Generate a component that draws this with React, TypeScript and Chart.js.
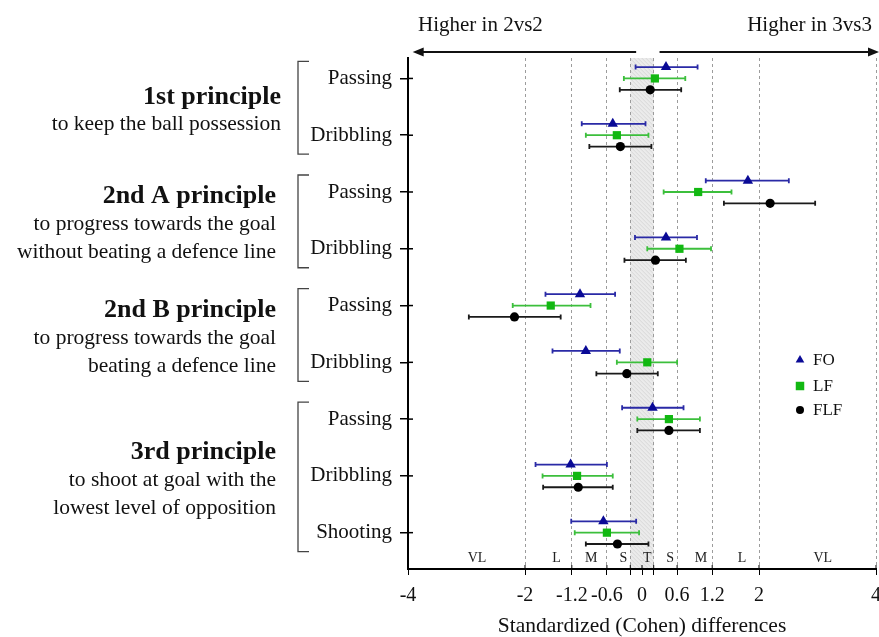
import React, { useEffect, useRef } from 'react';
import { Chart, registerables } from 'chart.js';

Chart.register(...registerables);

// ---------- data ----------
const rowLabels = ['Passing', 'Dribbling', 'Passing', 'Dribbling', 'Passing', 'Dribbling', 'Passing', 'Dribbling', 'Shooting'];

const seriesNames = ['FO', 'LF', 'FLF'];

const foMean = [0.41, -0.5, 1.81, 0.41, -1.06, -0.96, 0.18, -1.22, -0.66];
const foLow = [-0.11, -1.03, 1.09, -0.12, -1.65, -1.53, -0.34, -1.82, -1.21];
const foHigh = [0.95, 0.06, 2.51, 0.94, -0.46, -0.38, 0.71, -0.6, -0.1];

const lfMean = [0.22, -0.43, 0.96, 0.64, -1.56, 0.09, 0.46, -1.11, -0.6];
const lfLow = [-0.31, -0.96, 0.37, 0.09, -2.21, -0.43, -0.08, -1.7, -1.15];
const lfHigh = [0.74, 0.11, 1.53, 1.18, -0.88, 0.6, 0.99, -0.5, -0.05];

const flfMean = [0.14, -0.37, 2.19, 0.23, -2.18, -0.26, 0.46, -1.09, -0.42];
const flfLow = [-0.38, -0.9, 1.4, -0.3, -2.96, -0.78, -0.08, -1.69, -0.96];
const flfHigh = [0.67, 0.16, 2.96, 0.75, -1.39, 0.27, 0.99, -0.5, 0.11];

const groupTitles = ['1st principle', '2nd A principle', '2nd B principle', '3rd principle'];
const groupSubtitles = [
  ['to keep the ball possession'],
  ['to progress towards the goal', 'without beating a defence line'],
  ['to progress towards the goal', 'beating a defence line'],
  ['to shoot at goal with the', 'lowest level of opposition'],
];
const groupFirstRow = [0, 2, 4, 6];
const groupLastRow = [1, 3, 5, 8];

const xTickValues = [-4, -2, -1.2, -0.6, -0.2, 0, 0.2, 0.6, 1.2, 2, 4];
const xUnlabelled = [-0.2, 0.2];
const trivialBand = [-0.2, 0.2];

const sizeLabels = ['VL', 'L', 'M', 'S', 'T', 'S', 'M', 'L', 'VL'];
const sizeLabelX = [-2.82, -1.46, -0.87, -0.32, 0.09, 0.48, 1.01, 1.71, 3.09];

const leftArrowLabel = 'Higher in 2vs2';
const rightArrowLabel = 'Higher in 3vs3';
const xTitle = 'Standardized (Cohen) differences';

// ---------- styling ----------
const FONT = '"Liberation Serif", "Times New Roman", serif';
const SERIES_OFFSET = [-0.2, 0, 0.2];
const markerColors = ['#0a0a96', '#12b812', '#000000'];
const barColors = ['#2a2aa6', '#3cbf3c', '#1a1a1a'];
const pointStyles = ['triangle', 'rect', 'circle'];
const pointRadii = [6, 5.8, 4.6];

const means = [foMean, lfMean, flfMean];
const lows = [foLow, lfLow, flfLow];
const highs = [foHigh, lfHigh, flfHigh];

function drawMarker(ctx: CanvasRenderingContext2D, style: string, x: number, y: number, r: number) {
  ctx.beginPath();
  if (style === 'triangle') {
    ctx.moveTo(x, y - r);
    ctx.lineTo(x + r * 0.866, y + r * 0.5);
    ctx.lineTo(x - r * 0.866, y + r * 0.5);
    ctx.closePath();
    ctx.fill();
  } else if (style === 'rect') {
    const s = r * 0.707;
    ctx.fillRect(x - s, y - s, 2 * s, 2 * s);
  } else {
    ctx.arc(x, y, r, 0, Math.PI * 2);
    ctx.fill();
  }
}

const forestPlugin = {
  id: 'forestPlugin',
  beforeDraw(chart: any) {
    const { ctx, chartArea: a, scales } = chart;
    const x = scales.x;
    const x0 = x.getPixelForValue(trivialBand[0]);
    const x1 = x.getPixelForValue(trivialBand[1]);
    ctx.save();
    ctx.fillStyle = '#ebebeb';
    ctx.fillRect(x0, a.top, x1 - x0, a.bottom - a.top);
    ctx.beginPath();
    ctx.rect(x0, a.top, x1 - x0, a.bottom - a.top);
    ctx.clip();
    ctx.strokeStyle = '#d2d2d2';
    ctx.lineWidth = 0.8;
    ctx.beginPath();
    const w = x1 - x0;
    for (let yy = a.top - w; yy < a.bottom + w; yy += 4) {
      ctx.moveTo(x0, yy);
      ctx.lineTo(x1, yy + w);
    }
    ctx.stroke();
    ctx.restore();
  },
  beforeDatasetsDraw(chart: any) {
    const { ctx, scales } = chart;
    const x = scales.x;
    ctx.save();
    ctx.lineWidth = 1.8;
    chart.data.datasets.forEach((ds: any, i: number) => {
      const meta = chart.getDatasetMeta(i);
      ctx.strokeStyle = barColors[i];
      meta.data.forEach((pt: any, j: number) => {
        const y = pt.y;
        const xl = x.getPixelForValue(lows[i][j]);
        const xh = x.getPixelForValue(highs[i][j]);
        ctx.beginPath();
        ctx.moveTo(xl, y);
        ctx.lineTo(xh, y);
        ctx.moveTo(xl, y - 2.5);
        ctx.lineTo(xl, y + 2.5);
        ctx.moveTo(xh, y - 2.5);
        ctx.lineTo(xh, y + 2.5);
        ctx.stroke();
      });
    });
    ctx.restore();
  },
  afterDraw(chart: any) {
    const { ctx, chartArea: a, scales } = chart;
    const x = scales.x;
    const y = scales.y;
    ctx.save();

    // inner halves of y tick marks
    ctx.strokeStyle = '#000';
    ctx.lineWidth = 1.5;
    rowLabels.forEach((_, i) => {
      const py = y.getPixelForValue(i);
      ctx.beginPath();
      ctx.moveTo(a.left, py);
      ctx.lineTo(a.left + 5, py);
      ctx.stroke();
    });
    // inner halves of x tick marks
    ctx.lineWidth = 1;
    xTickValues.forEach((v) => {
      const px = x.getPixelForValue(v);
      ctx.beginPath();
      ctx.moveTo(px, a.bottom);
      ctx.lineTo(px, a.bottom - 4);
      ctx.stroke();
    });

    // group headers and brackets
    ctx.fillStyle = '#111';
    ctx.textAlign = 'right';
    ctx.textBaseline = 'middle';
    groupTitles.forEach((title, g) => {
      const top = y.getPixelForValue(groupFirstRow[g]);
      const bot = y.getPixelForValue(groupLastRow[g]);
      const mid = (top + bot) / 2;
      const subs = groupSubtitles[g];
      const titleY = mid + 4 - 14 * subs.length;
      const rightX = g === 0 ? 281 : 276;
      ctx.font = `bold 26px ${FONT}`;
      ctx.fillText(title, rightX, titleY);
      ctx.font = `21.5px ${FONT}`;
      subs.forEach((s, k) => {
        ctx.fillText(s, rightX, titleY + 28 * (k + 1));
      });
      // bracket
      ctx.strokeStyle = '#444';
      ctx.lineWidth = 1.3;
      ctx.beginPath();
      ctx.moveTo(309, top - 17);
      ctx.lineTo(298, top - 17);
      ctx.lineTo(298, bot + 19);
      ctx.lineTo(309, bot + 19);
      ctx.stroke();
    });

    // effect size labels
    ctx.font = `14px ${FONT}`;
    ctx.fillStyle = '#222';
    ctx.textAlign = 'center';
    sizeLabels.forEach((s, i) => {
      ctx.fillText(s, x.getPixelForValue(sizeLabelX[i]), a.bottom - 11);
    });

    // top arrows
    const arrowY = 52;
    ctx.strokeStyle = '#111';
    ctx.fillStyle = '#111';
    ctx.lineWidth = 2;
    const lStart = x.getPixelForValue(-0.1);
    const lTip = x.getPixelForValue(-3.92);
    const rStart = x.getPixelForValue(0.3);
    const rTip = 879;
    ctx.beginPath();
    ctx.moveTo(lStart, arrowY);
    ctx.lineTo(lTip + 8, arrowY);
    ctx.moveTo(rStart, arrowY);
    ctx.lineTo(rTip - 8, arrowY);
    ctx.stroke();
    ctx.beginPath();
    ctx.moveTo(lTip, arrowY);
    ctx.lineTo(lTip + 11, arrowY - 4.5);
    ctx.lineTo(lTip + 11, arrowY + 4.5);
    ctx.closePath();
    ctx.fill();
    ctx.beginPath();
    ctx.moveTo(rTip, arrowY);
    ctx.lineTo(rTip - 11, arrowY - 4.5);
    ctx.lineTo(rTip - 11, arrowY + 4.5);
    ctx.closePath();
    ctx.fill();

    ctx.font = `21px ${FONT}`;
    ctx.textBaseline = 'middle';
    ctx.textAlign = 'left';
    ctx.fillText(leftArrowLabel, 418, 25);
    ctx.textAlign = 'right';
    ctx.fillText(rightArrowLabel, 872, 25);

    // legend
    ctx.font = `17px ${FONT}`;
    ctx.textAlign = 'left';
    const legendY = [360, 386, 410];
    seriesNames.forEach((n, i) => {
      ctx.fillStyle = markerColors[i];
      drawMarker(ctx, pointStyles[i], 800, legendY[i], i === 0 ? 5 : i === 1 ? 6 : 4);
      ctx.fillStyle = '#111';
      ctx.fillText(n, 813, legendY[i] + 1);
    });

    ctx.restore();
  },
};

export default function App() {
  const ref = useRef<HTMLCanvasElement>(null);

  useEffect(() => {
    if (!ref.current) return;
    Chart.defaults.font.family = FONT;
    const datasets = seriesNames.map((name, i) => ({
      label: name,
      data: means[i].map((v, j) => ({ x: v, y: j + SERIES_OFFSET[i] })),
      pointStyle: pointStyles[i],
      pointRadius: pointRadii[i],
      pointHoverRadius: pointRadii[i],
      backgroundColor: markerColors[i],
      borderColor: markerColors[i],
      borderWidth: 0,
      showLine: false,
    }));

    const chart = new Chart(ref.current, {
      type: 'scatter',
      data: { datasets },
      plugins: [forestPlugin],
      options: {
        animation: false,
        responsive: false,
        events: [],
        layout: { autoPadding: false, padding: { left: 0, top: 58, right: 3, bottom: 0 } },
        plugins: { legend: { display: false }, tooltip: { enabled: false }, title: { display: false } },
        scales: {
          x: {
            type: 'linear',
            min: -4,
            max: 4,
            afterBuildTicks: (s: any) => {
              s.ticks = xTickValues.map((v) => ({ value: v }));
            },
            afterFit: (s: any) => {
              s.height = 68;
              s.paddingLeft = 0;
              s.paddingRight = 0;
            },
            ticks: {
              autoSkip: false,
              maxRotation: 0,
              font: { size: 20 },
              color: '#111',
              padding: 9,
              callback: (v: any) => (xUnlabelled.includes(Number(v)) ? '' : String(v)),
            },
            grid: {
              drawOnChartArea: true,
              drawTicks: true,
              tickLength: 6,
              lineWidth: 1,
              color: (c: any) =>
                c.tick && (c.tick.value === 0 || c.tick.value === -4) ? 'rgba(0,0,0,0)' : '#9c9c9c',
              tickColor: '#000',
            },
            border: { display: true, color: '#000', width: 2, dash: [3, 3] },
            title: {
              display: true,
              text: xTitle,
              color: '#111',
              font: { size: 21.5, lineHeight: 1 },
              padding: { top: 0, bottom: 0 },
            },
          },
          y: {
            type: 'linear',
            reverse: true,
            min: -0.36,
            max: 8.64,
            afterBuildTicks: (s: any) => {
              s.ticks = rowLabels.map((_, i) => ({ value: i }));
            },
            afterFit: (s: any) => {
              s.width = 408;
              s.paddingTop = 0;
              s.paddingBottom = 0;
            },
            ticks: {
              autoSkip: false,
              font: { size: 21 },
              color: '#111',
              padding: 8,
              callback: (v: any) => rowLabels[Number(v)] ?? '',
            },
            grid: {
              drawOnChartArea: false,
              drawTicks: true,
              tickLength: 8,
              lineWidth: 1.5,
              color: '#000',
              tickColor: '#000',
            },
            border: { display: true, color: '#000', width: 2 },
          },
        },
      } as any,
    });
    return () => chart.destroy();
  }, []);

  return (
    <div style={{ position: 'fixed', left: 0, top: 0, width: 879, height: 637, background: '#fff' }}>
      <canvas ref={ref} width={879} height={637} style={{ width: 879, height: 637, display: 'block' }} />
    </div>
  );
}
